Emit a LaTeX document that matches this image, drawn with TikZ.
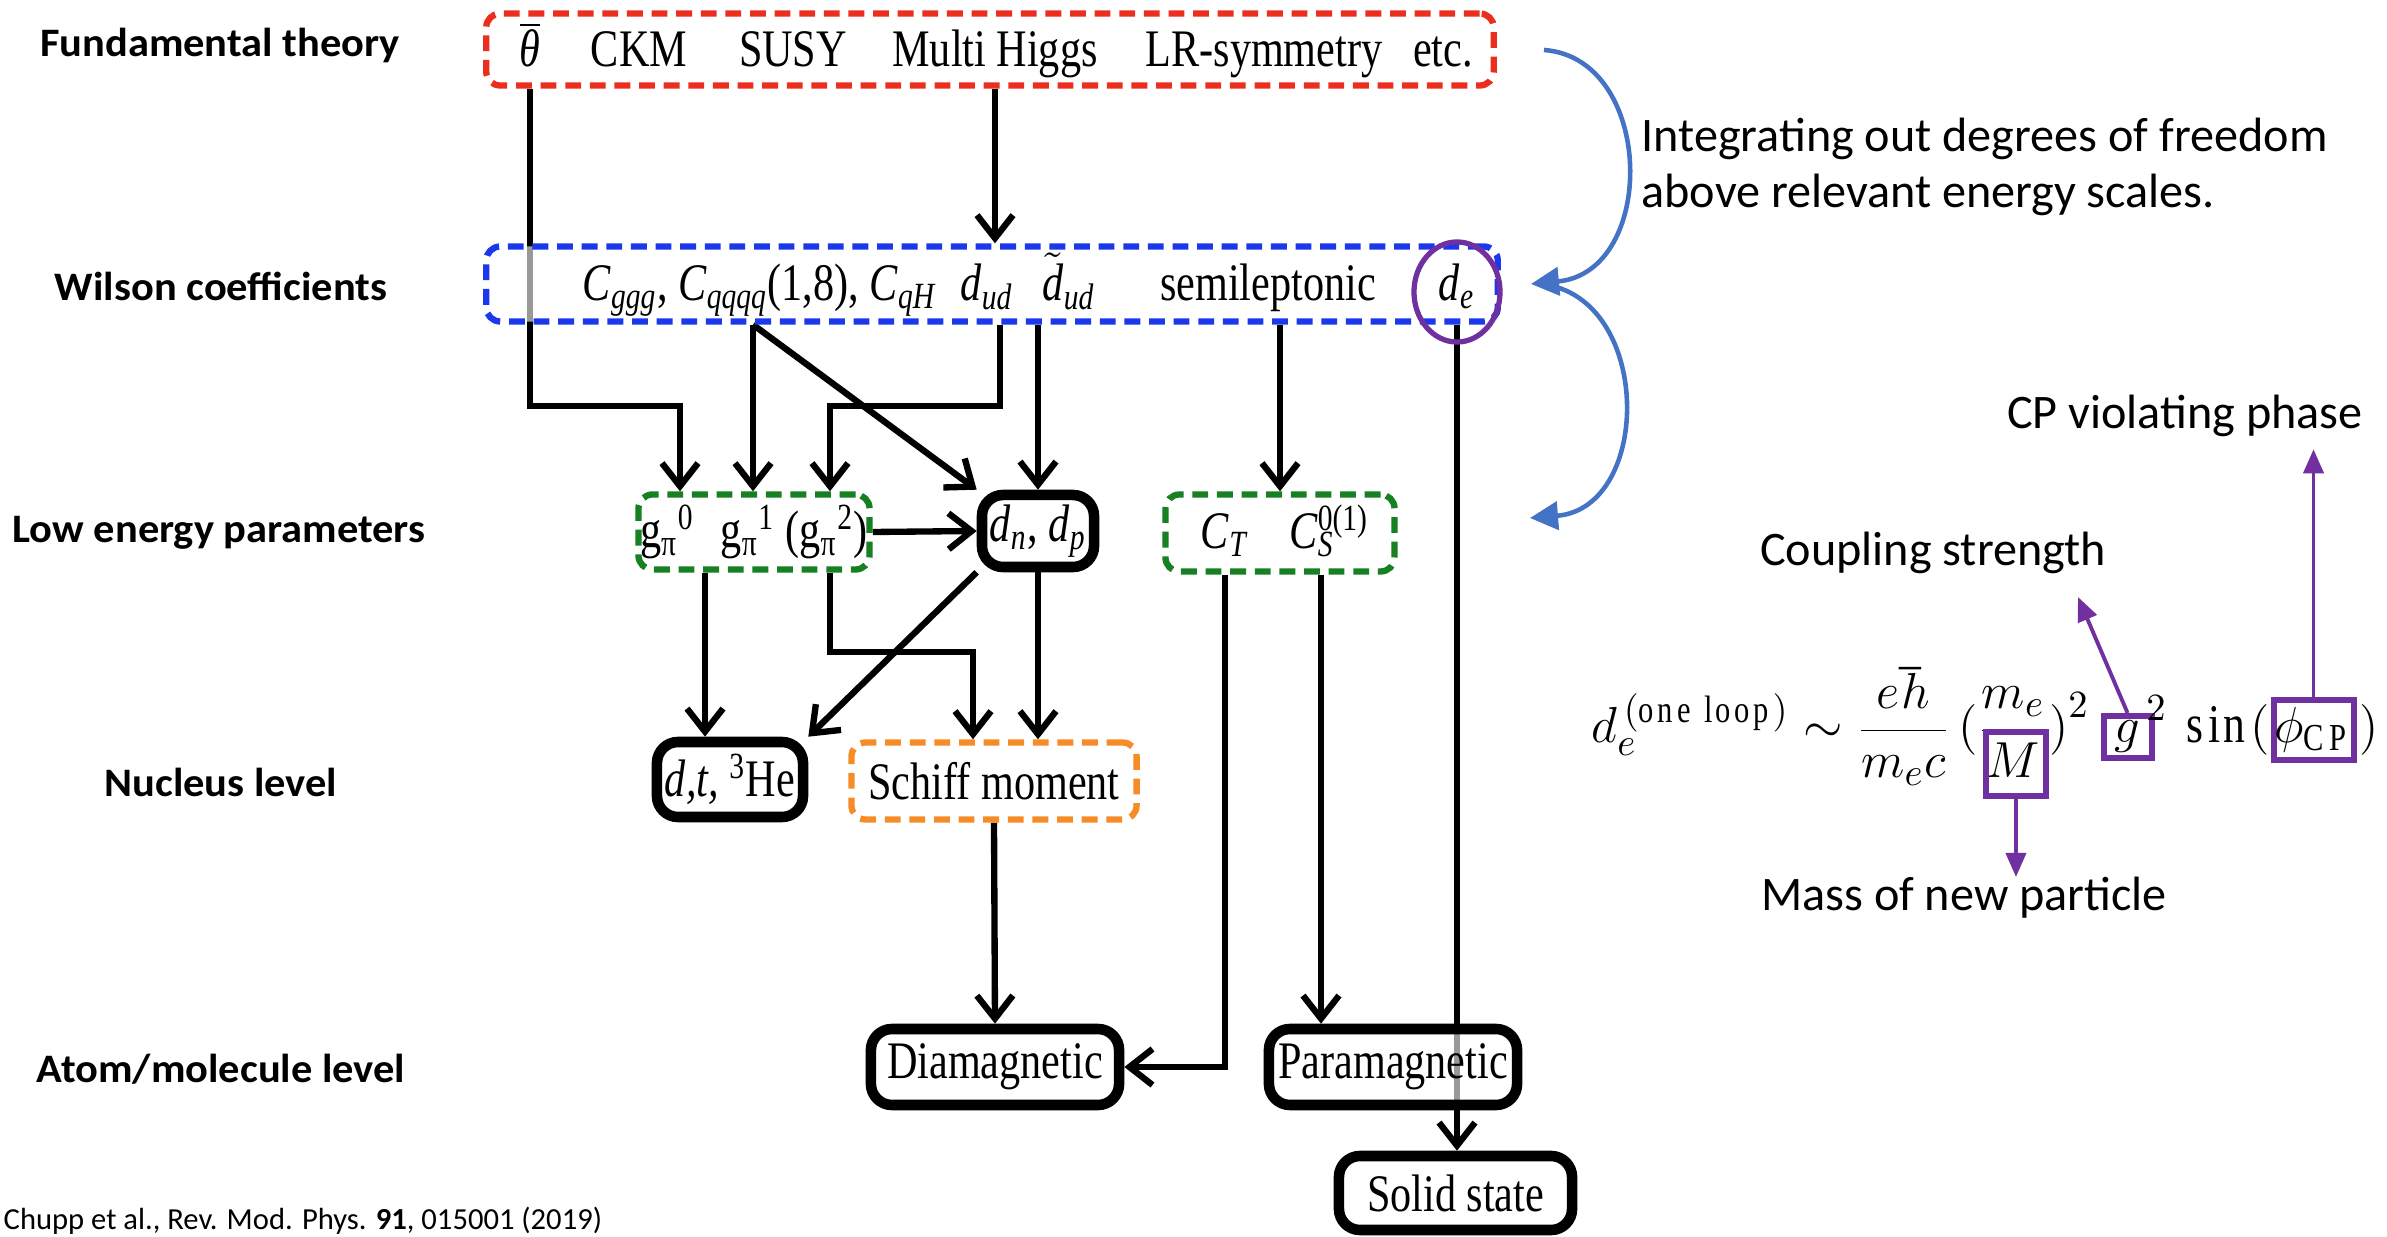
\documentclass[tikz,border=0pt]{standalone}
\usepackage{fontspec}
\setmainfont[FakeStretch=0.8]{Liberation Serif}
\newfontfamily\levelfont[FakeStretch=1.05]{Carlito}
\newfontfamily\notefont{Carlito}
\usetikzlibrary{arrows.meta,backgrounds,shapes.geometric}

\definecolor{fundred}{RGB}{236,46,30}
\definecolor{wilsonblue}{RGB}{28,56,236}
\definecolor{lowgreen}{RGB}{22,128,34}
\definecolor{schifforange}{RGB}{246,140,40}
\definecolor{edmpurple}{RGB}{112,48,160}
\definecolor{scaleblue}{RGB}{68,114,196}

\newcommand{\subsup}[3]{#1\rlap{\textsubscript{#2}}\textsuperscript{#3}}

\tikzset{
  box/.style={rectangle, rounded corners=4pt, fill=white, fill opacity=0.6, text opacity=1,
    inner sep=0pt, font=\fontsize{15}{17}\selectfont},
  dashbox/.style={box, line width=1.8pt, dash pattern=on 4.5pt off 2.5pt},
  solidbox/.style={box, draw=black, line width=3pt, rounded corners=6pt},
  item/.style={anchor=base, inner sep=0pt, font=\fontsize{15}{17}\selectfont},
  levellabel/.style={font=\levelfont\bfseries\fontsize{11.5}{13}\selectfont},
  note/.style={font=\notefont\fontsize{13.7}{16}\selectfont, align=left},
  formula/.style={anchor=base west, inner sep=0pt, font=\fontsize{15.5}{18}\selectfont},
  flow/.style={-{Straight Barb[length=2.3mm,width=3.6mm]}, line width=1.8pt},
  rgflow/.style={-{Triangle[length=2.8mm,width=2.8mm]}, scaleblue, line width=1.3pt},
  markbox/.style={rectangle, draw=edmpurple, line width=1.7pt, inner sep=0pt, font=\fontsize{15.5}{18}\selectfont},
  pointer/.style={-{Triangle[length=2.4mm,width=2mm]}, edmpurple, line width=1.1pt},
}

\begin{document}
\begin{tikzpicture}[x=0.01cm, y=-0.01cm]
\useasboundingbox (0,0) rectangle (2387,1237);

% level names
\node[levellabel] (lvfund) at (220,46) {Fundamental theory};
\node[levellabel] (lvwilson) at (221,286) {Wilson coefficients};
\node[levellabel] (lvlow) at (219,533) {Low energy parameters};
\node[levellabel] (lvnuc) at (221,782) {Nucleus level};
\node[levellabel] (lvatom) at (221,1069) {Atom/molecule level};

% boxes
\node[dashbox, draw=fundred, minimum width=10.07cm, minimum height=0.72cm] (fund) at (990,49.5) {};
\node[dashbox, draw=wilsonblue, minimum width=10.11cm, minimum height=0.75cm] (wilson) at (992,284) {};
\node[dashbox, draw=lowgreen, minimum width=2.31cm, minimum height=0.75cm] (gpi) at (754,532)
  {g\textsubscript{π}\textsuperscript{0}\enspace g\textsubscript{π}\textsuperscript{1} (g\textsubscript{π}\textsuperscript{2})};
\node[solidbox, minimum width=1.12cm, minimum height=0.72cm] (dnp) at (1038,531)
  {\textit{d}\textsubscript{\textit{n}}, \textit{d}\textsubscript{\textit{p}}};
\node[dashbox, draw=lowgreen, minimum width=2.29cm, minimum height=0.77cm] (cts) at (1280,533) {};
\node[solidbox, minimum width=1.46cm, minimum height=0.75cm] (dt) at (730,779.5) {\textit{d,t,} \textsuperscript{3}He};
\node[dashbox, draw=schifforange, minimum width=2.85cm, minimum height=0.77cm] (schiff) at (994,781) {Schiff moment};
\node[solidbox, minimum width=2.48cm, minimum height=0.76cm] (dia) at (995,1067) {Diamagnetic};
\node[solidbox, minimum width=2.48cm, minimum height=0.76cm] (para) at (1393,1067) {Paramagnetic};
\node[solidbox, minimum width=2.33cm, minimum height=0.74cm] (solid) at (1455.5,1193) {Solid state};

% box contents
\node[item] (theta) at (530,67) {$\overline{\hbox{\textit{θ}}}$};
\node[item] (ckm) at (639,67) {CKM};
\node[item] (susy) at (793,67) {SUSY};
\node[item] (higgs) at (995,67) {Multi Higgs};
\node[item] (lr) at (1264,67) {LR-symmetry};
\node[item] (etc) at (1443,67) {etc.};
\node[item] (cops) at (760,301) {\textit{C}\textsubscript{\textit{ggg}}, \textit{C}\textsubscript{\textit{qqqq}}(1,8), \textit{C}\textsubscript{\textit{qH}}};
\node[item] (dud) at (987,301) {\textit{d}\textsubscript{\textit{ud}}};
\node[item] (dtud) at (1069,301) {$\tilde{\hbox{\textit{d}}}$\textsubscript{\textit{ud}}};
\node[item] (semi) at (1268,301) {semileptonic};
\node[item] (de) at (1457,301) {\textit{d}\textsubscript{\textit{e}}};
\node[item] (ct) at (1225,549) {\textit{C}\textsubscript{\textit{T}}};
\node[item] (cs) at (1329,549) {\subsup{\textit{C}}{\textit{S}}{0(1)}};
\node[ellipse, draw=edmpurple, line width=1.5pt, minimum width=0.86cm, minimum height=1.0cm] (dering) at (1457,292) {};

% connectors
\begin{scope}[on background layer]
\draw[flow] (fund.south -| theta) -- (theta |- 0,406) -| (gpi.north -| 680,0);
\draw[flow] (fund.south -| higgs) -- (wilson.north -| higgs);
\draw[flow] (wilson.south -| 753,0) -- (gpi.north -| 753,0);
\draw[flow] (wilson.south -| 753,0) -- (dnp.north west);
\draw[flow] (wilson.south -| 1000,0) -- (1000,406) -| (gpi.north -| 830,0);
\draw[flow] (wilson.south -| dnp.north) -- (dnp.north);
\draw[flow] (wilson.south -| cts.north) -- (cts.north);
\draw[flow] (wilson.south -| de) -- (solid.north -| de);
\draw[flow] (gpi.east) -- (dnp.west);
\draw[flow] (gpi.south -| 705,0) -- (dt.north -| 705,0);
\draw[flow] (gpi.south -| 830,0) -- (830,652) -| (schiff.north -| 973,0);
\draw[flow] (dnp.south) -- (schiff.north -| dnp.south);
\draw[flow] (dnp.south west) -- (dt.north east);
\draw[flow] (schiff.south) -- (dia.north);
\draw[flow] (cts.south -| ct) -- (ct |- dia.east) -- (dia.east);
\draw[flow] (cts.south -| 1321,0) -- (para.north -| 1321,0);
\end{scope}

% energy scale arrows
\coordinate (rgtop) at (1544,50);
\coordinate (rglow) at (1530,518);
\draw[rgflow] (rgtop) .. controls (1655,58) and (1658,272) .. ([xshift=0.3cm]wilson.east);
\draw[rgflow] ([xshift=0.4cm]wilson.east) .. controls (1653,296) and (1653,508) .. (rglow);
\node[note, anchor=west] (integ) at (1629,167) {Integrating out degrees of freedom\\above relevant energy scales.};

% one loop estimate
\node[formula] (edmlhs) at (1591,743)
  {$\displaystyle d_e^{\,\mathrm{(one\ loop)}} \sim \frac{e\hbar}{m_e c}\,\Big(\frac{m_e}{M}\Big)^{2}$};
\node[markbox, anchor=north, minimum width=0.6cm, minimum height=0.64cm] (markM) at ([xshift=-0.74cm, yshift=3.9pt]edmlhs.base east) {};
\node[markbox, anchor=base west, minimum width=0.48cm, minimum height=0.42cm] (markg) at ([xshift=3pt]edmlhs.base east) {$g$};
\node[formula] (gsq) at ([xshift=-2.5pt, yshift=6.5pt]markg.base east) {$\scriptstyle 2$};
\node[formula] (sinp) at ([xshift=9pt]markg.base east) {$\mathrm{sin}($};
\node[markbox, anchor=base west, minimum width=0.8cm, minimum height=0.6cm] (markphi) at (sinp.base east) {$\phi_{\mathrm{CP}}$};
\node[formula] (closep) at ([xshift=0.5pt]markphi.base east) {$)$};

\node[note] (cpv) at (2185,416) {CP violating phase};
\node[note] (coup) at (1933,553) {Coupling strength};
\node[note] (mass) at (1964,898) {Mass of new particle};
\coordinate (couptip) at (2078,597);
\draw[pointer] (markphi.north) -- (markphi.north |- cpv.south);
\draw[pointer] (markg.north) -- (couptip);
\draw[pointer, shorten >=-0.12cm] (markM.south) -- (markM.south |- mass.north);

\node[font=\notefont\fontsize{8.7}{10}\selectfont, anchor=base west, inner sep=0pt] (cite) at (3,1229)
  {Chupp et al., Rev. Mod. Phys. \textbf{91}, 015001 (2019)};
\end{tikzpicture}
\end{document}
